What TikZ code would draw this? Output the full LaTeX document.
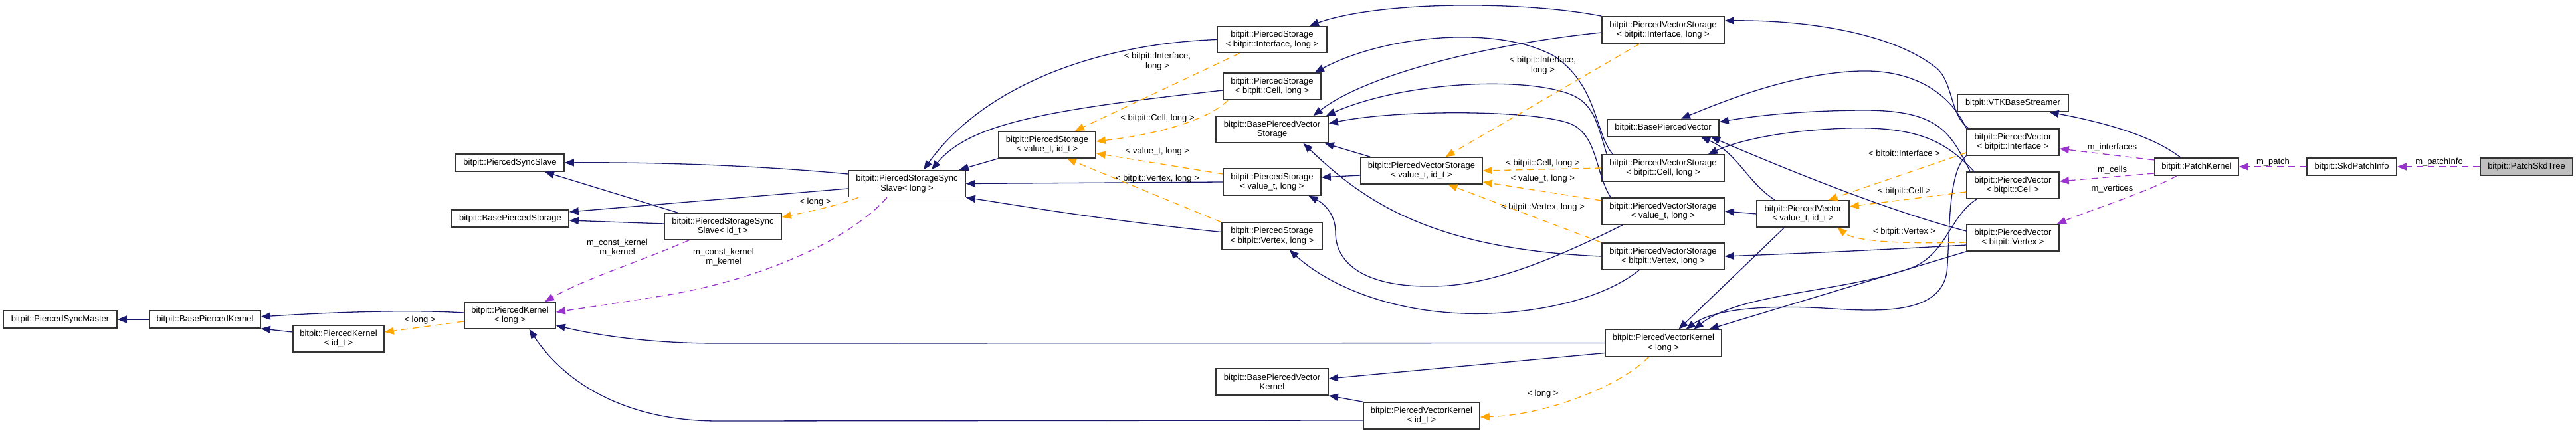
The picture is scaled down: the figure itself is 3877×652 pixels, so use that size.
\documentclass[tikz,border=0pt]{standalone}
\usepackage{fontspec}
\setmainfont{Liberation Sans}
\usetikzlibrary{arrows.meta,calc}
\definecolor{mblue}{HTML}{191970}
\definecolor{orng}{HTML}{FFA500}
\definecolor{purp}{HTML}{9A32CD}
\newcommand\fs{\fontsize{13}{14.5}\selectfont}
\newcommand\mybox[6]{\node[box,minimum width=#4pt,minimum height=#5pt] (#1) at (#2,#3) {#6};}
\tikzset{
  box/.style={draw=black!80, line width=1.6pt, fill=white, inner sep=0pt, align=center, font=\fs},
  tip/.style={-{Triangle[length=14pt,width=11pt]}},
  inh/.style={draw=mblue, line width=1.3pt, tip},
  tpl/.style={draw=orng, line width=1.3pt, dash pattern=on 10pt off 7pt, tip},
  use/.style={draw=purp, line width=1.3pt, dash pattern=on 10pt off 7pt, tip},
  lbl/.style={font=\fs, align=center, inner sep=0pt},
}
\begin{document}
\begin{tikzpicture}[x=1pt,y=-1pt]
\useasboundingbox[fill=white] (0,0) rectangle (3877,652);
% ---------------- nodes
\mybox{psm}{90.5}{481}{171}{26}{bitpit::PiercedSyncMaster}
\mybox{bpk}{308.5}{481}{167}{26}{bitpit::BasePiercedKernel}
\mybox{pkid}{509.5}{510}{137}{40}{bitpit::PiercedKernel\\< id\_t >}
\mybox{pklong}{767.5}{475}{137}{40}{bitpit::PiercedKernel\\< long >}
\mybox{pss}{767.5}{245}{163}{26}{bitpit::PiercedSyncSlave}
\mybox{bps}{768}{329}{176}{26}{bitpit::BasePiercedStorage}
\mybox{psssid}{1088}{341}{176}{40}{bitpit::PiercedStorageSync\\Slave< id\_t >}
\mybox{pssslong}{1365}{276.5}{176}{40}{bitpit::PiercedStorageSync\\Slave< long >}
\mybox{psvi}{1576}{218}{146}{40}{bitpit::PiercedStorage\\< value\_t, id\_t >}
\mybox{psI}{1914.5}{59.5}{165}{40}{bitpit::PiercedStorage\\< bitpit::Interface, long >}
\mybox{psC}{1914.5}{130}{147}{40}{bitpit::PiercedStorage\\< bitpit::Cell, long >}
\mybox{bpvs}{1914.5}{195}{169}{40}{bitpit::BasePiercedVector\\Storage}
\mybox{psvl}{1914.5}{274}{147}{40}{bitpit::PiercedStorage\\< value\_t, long >}
\mybox{psV}{1914.5}{355.5}{151}{40}{bitpit::PiercedStorage\\< bitpit::Vertex, long >}
\mybox{bpvk}{1914.5}{575}{169}{40}{bitpit::BasePiercedVector\\Kernel}
\mybox{pvsvi}{2139.5}{257}{183}{40}{bitpit::PiercedVectorStorage\\< value\_t, id\_t >}
\mybox{pvkid}{2139.5}{626}{175}{40}{bitpit::PiercedVectorKernel\\< id\_t >}
\mybox{pvsI}{2503}{45}{184}{40}{bitpit::PiercedVectorStorage\\< bitpit::Interface, long >}
\mybox{bpv}{2503}{192.5}{168}{26}{bitpit::BasePiercedVector}
\mybox{pvsC}{2503}{253}{184}{40}{bitpit::PiercedVectorStorage\\< bitpit::Cell, long >}
\mybox{pvsvl}{2503}{318}{184}{40}{bitpit::PiercedVectorStorage\\< value\_t, long >}
\mybox{pvsV}{2503}{386}{184}{40}{bitpit::PiercedVectorStorage\\< bitpit::Vertex, long >}
\mybox{pvklong}{2503.5}{516.5}{175}{40}{bitpit::PiercedVectorKernel\\< long >}
\mybox{pvvi}{2713.5}{322}{139}{40}{bitpit::PiercedVector\\< value\_t, id\_t >}
\mybox{pvI}{3029.5}{214}{139}{40}{bitpit::PiercedVector\\< bitpit::Interface >}
\mybox{pvC}{3029.5}{279}{139}{40}{bitpit::PiercedVector\\< bitpit::Cell >}
\mybox{pvV}{3029.5}{358}{139}{40}{bitpit::PiercedVector\\< bitpit::Vertex >}
\mybox{vtk}{3029.5}{155}{167}{26}{bitpit::VTKBaseStreamer}
\mybox{pk}{3306}{251}{126}{26}{bitpit::PatchKernel}
\mybox{spi}{3539.5}{251}{135}{26}{bitpit::SkdPatchInfo}
\node[box,fill={rgb,255:red,191;green,191;blue,191},minimum width=139pt,minimum height=26pt] (pst) at (3802.5,251) {bitpit::PatchSkdTree};
% ---------------- kernel edges
\draw[inh] (bpk.west) -- (psm.east);
\draw[inh] ($(pklong.west)+(0,-4)$) .. controls (620,466) and (500,470) .. ($(bpk.east)+(0,-4)$);
\draw[inh] ($(pkid.west)+(0,-10)$) -- (bpk.south east);
\draw[tpl] ($(pklong.west)+(0,9)$) -- ($(pkid.east)+(0,-10)$);
\draw[inh] ($(pssslong.west)+(0,-14.5)$) .. controls (1150,250) and (1000,244) .. (pss.east);
\draw[inh] ($(pssslong.west)+(0,7.5)$) -- ($(bps.east)+(0,-10)$);
\draw[inh] ($(psssid.north)+(-68,0)$) -- ($(pss.south)+(52.5,0)$);
\draw[inh] ($(psssid.west)+(0,-4)$) -- ($(bps.east)+(0,3)$);
\draw[tpl] ($(pssslong.south)+(-73,0)$) .. controls (1260,310) and (1220,318) .. ($(psssid.east)+(0,-14)$);
\draw[use] ($(psssid.south)+(-51,0)$) .. controls (960,395) and (880,420) .. ($(pklong.north)+(52.5,0)$);
\draw[use] ($(pssslong.south)+(-30,0)$) .. controls (1280,360) and (1150,420) .. (1000,445) .. controls (920,458) and (870,465) .. ($(pklong.east)+(0,-5)$);
\draw[inh] (pvklong.west) -- (1080,517) .. controls (980,517) and (900,505) .. ($(pklong.east)+(0,15)$);
\draw[inh] ($(pvkid.west)+(0,7)$) -- (1080,634) .. controls (960,634) and (860,590) .. ($(pklong.south)+(29,0)$);
% ---------------- storage edges
\draw[inh] (psvi.south west) -- ($(pssslong.north east)+(-10,0)$);
\draw[inh] (psI.west) .. controls (1650,66) and (1480,130) .. ($(pssslong.north)+(25,0)$);
\draw[inh] ($(psC.west)+(0,6)$) .. controls (1580,165) and (1460,185) .. ($(pssslong.north)+(37,0)$);
\draw[inh] (psvl.west) -- (pssslong.east);
\draw[inh] ($(psV.west)+(0,-6)$) .. controls (1650,330) and (1550,312) .. (pssslong.south east);
\draw[tpl] ($(psI.south)+(-49,0)$) -- ($(psvi.north)+(42,0)$);
\draw[tpl] ($(psC.south west)+(8,0)$) .. controls (1825,175) and (1760,200) .. ($(psvi.east)+(0,-5)$);
\draw[tpl] ($(psvl.west)+(0,-12)$) -- ($(psvi.east)+(0,13)$);
\draw[tpl] (psV.north west) -- ($(psvi.south)+(30,0)$);
% ---------------- vector storage edges
\draw[inh] (pvsI.north west) .. controls (2300,2) and (2080,0) .. ($(psI.north east)+(-27,0)$);
\draw[inh] ($(pvsI.west)+(0,4)$) .. controls (2250,65) and (2060,110) .. ($(bpvs.north)+(62,0)$);
\draw[inh] ($(pvsC.north west)+(17,0)$) .. controls (2400,200) and (2405,130) .. (2340,85) .. controls (2250,35) and (2080,55) .. ($(psC.north east)+(-10,0)$);
\draw[inh] ($(pvsC.north west)+(8,0)$) .. controls (2405,190) and (2400,160) .. (2370,145) .. controls (2310,115) and (2120,120) .. ($(bpvs.north east)+(-4,0)$);
\draw[inh] ($(pvsvl.north west)+(14,0)$) .. controls (2400,260) and (2405,200) .. (2360,185) .. controls (2300,165) and (2100,165) .. ($(bpvs.east)+(0,-9)$);
\draw[inh] ($(pvsvi.north west)+(15,0)$) -- ($(bpvs.south east)+(-6,0)$);
\draw[inh] (pvsV.west) .. controls (2150,375) and (2050,300) .. ($(bpvs.south)+(47,0)$);
\draw[inh] ($(pvsvi.west)+(0,7)$) -- ($(psvl.east)+(0,-7)$);
\draw[inh] ($(pvsvl.south)+(-61,0)$) .. controls (2320,400) and (2230,432) .. (2152,431) .. controls (2060,432) and (2010,400) .. (2010,350) .. controls (2010,320) and (1990,305) .. ($(psvl.south)+(55,0)$);
\draw[inh] ($(pvsV.south)+(-36,0)$) .. controls (2400,460) and (2280,475) .. (2202,472) .. controls (2090,468) and (2000,430) .. ($(psV.south)+(26,0)$);
\draw[tpl] ($(pvsI.south)+(-35,0)$) -- ($(pvsvi.north)+(36,0)$);
\draw[tpl] (pvsC.west) -- (pvsvi.east);
\draw[tpl] ($(pvsvl.west)+(0,-16)$) -- ($(pvsvi.east)+(0,17)$);
\draw[tpl] (pvsV.north west) -- ($(pvsvi.south)+(40,0)$);
% ---------------- vector kernel edges
\draw[inh] ($(pvklong.west)+(0,15)$) -- ($(bpvk.east)+(0,-5)$);
\draw[inh] (pvkid.north west) -- (bpvk.south east);
\draw[tpl] ($(pvklong.south)+(-22,0)$) .. controls (2440,580) and (2330,625) .. ($(pvkid.east)+(0,2)$);
% ---------------- pierced vector edges
\draw[inh] (pvvi.west) -- (pvsvl.east);
\draw[inh] ($(pvvi.north)+(-42,0)$) .. controls (2630,275) and (2615,230) .. ($(bpv.south)+(57,0)$);
\draw[inh] ($(pvvi.south)+(-28,0)$) -- ($(pvklong.north)+(23,0)$);
\draw[inh] ($(pvI.north west)+(4,0)$) .. controls (2935,175) and (2940,125) .. (2915,103) .. controls (2850,50) and (2720,30) .. ($(pvsI.east)+(0,-14)$);
\draw[inh] (pvI.north west) .. controls (2935,140) and (2880,105) .. (2800,107) .. controls (2700,110) and (2600,150) .. ($(bpv.north)+(27,0)$);
\draw[inh] ($(pvC.north west)+(6,0)$) .. controls (2935,200) and (2920,165) .. (2800,166) .. controls (2700,167) and (2640,175) .. ($(bpv.east)+(0,-9)$);
\draw[inh] ($(pvC.north west)+(12,0)$) .. controls (2930,215) and (2890,190) .. (2780,193) .. controls (2690,196) and (2620,210) .. ($(pvsC.north east)+(-25,0)$);
\draw[inh] ($(pvV.west)+(0,-10)$) .. controls (2850,320) and (2700,260) .. ($(bpv.south)+(72,0)$);
\draw[inh] ($(pvV.west)+(0,11)$) .. controls (2800,378) and (2700,382) .. (pvsV.east);
\draw[inh] (pvV.south west) -- ($(pvklong.north)+(69,0)$);
\draw[inh] ($(pvC.south west)+(16,0)$) .. controls (2935,325) and (2930,380) .. (2880,402) .. controls (2780,440) and (2620,440) .. ($(pvklong.north)+(46,0)$);
\draw[inh] (pvI.south west) .. controls (2930,260) and (2935,360) .. (2930,410) .. controls (2920,470) and (2840,470) .. (2760,465) .. controls (2660,458) and (2580,465) .. ($(pvklong.north)+(34,0)$);
\draw[tpl] ($(pvI.west)+(0,16)$) -- ($(pvvi.north)+(38,0)$);
\draw[tpl] ($(pvC.west)+(0,10)$) -- ($(pvvi.east)+(0,-11)$);
\draw[tpl] ($(pvV.west)+(0,7)$) .. controls (2850,368) and (2790,362) .. ($(pvvi.south)+(52,0)$);
% ---------------- patch edges
\draw[use] ($(pk.west)+(0,-10)$) -- ($(pvI.east)+(0,10)$);
\draw[use] ($(pk.west)+(0,10)$) -- ($(pvC.east)+(0,-6)$);
\draw[use] ($(pk.south)+(-30,0)$) .. controls (3230,290) and (3150,315) .. ($(pvV.north east)+(-4,0)$);
\draw[inh] ($(pk.north)+(-24,0)$) .. controls (3240,205) and (3170,185) .. ($(vtk.south)+(55,0)$);
\draw[use] (spi.west) -- (pk.east);
\draw[use] (pst.west) -- (spi.east);
% ---------------- labels
\node[lbl] (l1) at (632,482) {< long >};
\node[lbl] (l2) at (1227,304) {< long >};
\node[lbl] (l3) at (929,373) {m\_const\_kernel\\m\_kernel};
\node[lbl] (l4) at (1089,387) {m\_const\_kernel\\m\_kernel};
\node[lbl] (l5) at (1742,92.5) {< bitpit::Interface,\\long >};
\node[lbl] (l6) at (1742,178) {< bitpit::Cell, long >};
\node[lbl] (l7) at (1742,228) {< value\_t, long >};
\node[lbl] (l8) at (1742,269) {< bitpit::Vertex, long >};
\node[lbl] (l9) at (2322,98.5) {< bitpit::Interface,\\long >};
\node[lbl] (l10) at (2322,246) {< bitpit::Cell, long >};
\node[lbl] (l11) at (2322,269) {< value\_t, long >};
\node[lbl] (l12) at (2322,312) {< bitpit::Vertex, long >};
\node[lbl] (l13) at (2322,593) {< long >};
\node[lbl] (l14) at (2866,232) {< bitpit::Interface >};
\node[lbl] (l15) at (2866,288) {< bitpit::Cell >};
\node[lbl] (l16) at (2866,349) {< bitpit::Vertex >};
\node[lbl] (l17) at (3179,222) {m\_interfaces};
\node[lbl] (l18) at (3179,256) {m\_cells};
\node[lbl] (l19) at (3179,284) {m\_vertices};
\node[lbl] (l20) at (3421,244) {m\_patch};
\node[lbl] (l21) at (3671,244) {m\_patchInfo};
\end{tikzpicture}
\end{document}
